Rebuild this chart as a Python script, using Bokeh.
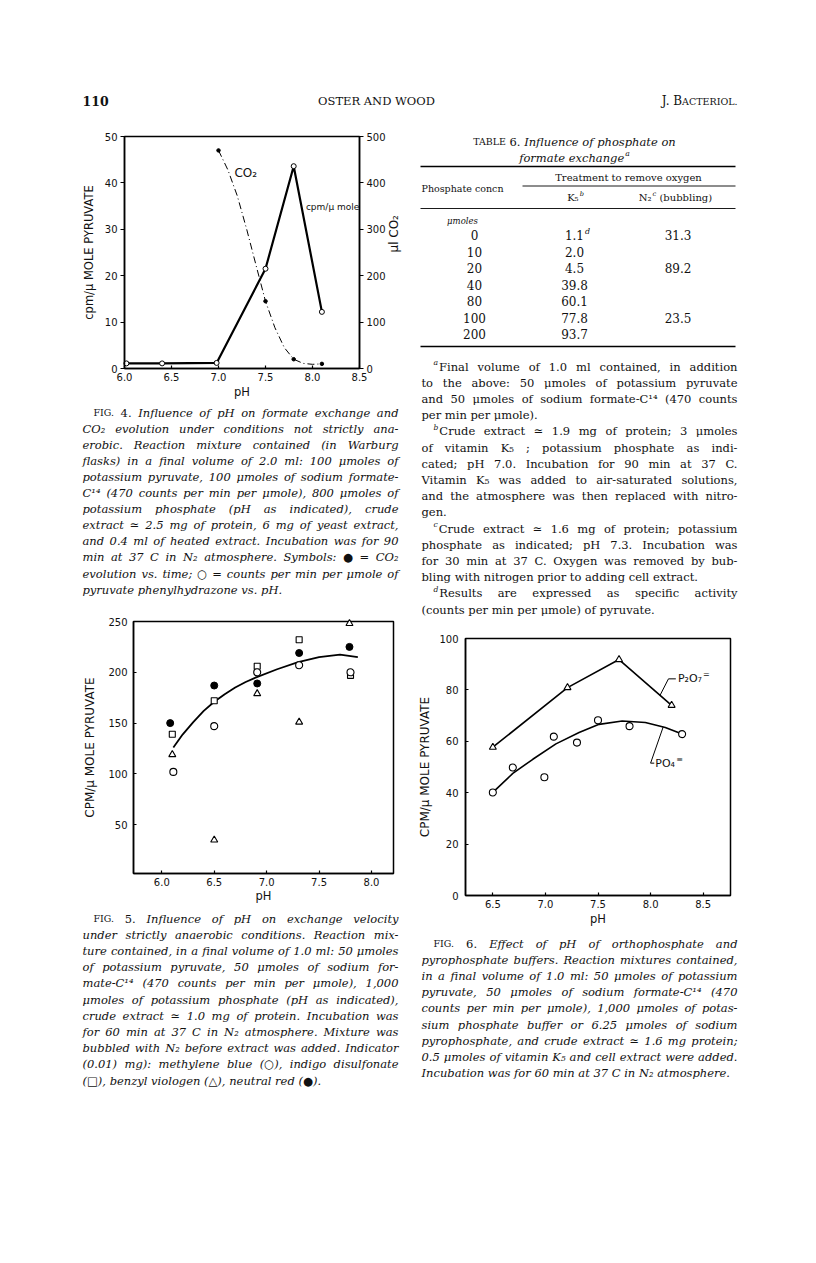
import glob, os, math
from bokeh.plotting import figure
from bokeh.models import Range1d, LinearAxis, FixedTicker, ColumnDataSource, PrintfTickFormatter
from bokeh.embed import file_html
from bokeh.resources import INLINE
from bokeh.core.properties import value, field

SERIF = "DejaVu Serif"
SANS = "DejaVu Sans"
INK = "#111111"

# ---------------- chart data ----------------
# Fig. 4
fig4_xlim = (6.0, 8.5)
fig4_ylim = (0, 50)
fig4_co2lim = (0, 500)
fig4_ph_cpm = [6.02, 6.40, 6.98, 7.50, 7.80, 8.10]
fig4_cpm = [1.1, 1.1, 1.2, 21.5, 43.6, 12.2]
fig4_ph_co2 = [7.00, 7.50, 7.80, 8.10]
fig4_co2 = [470, 145, 20, 10]
fig4_curve_ph = [7.0, 7.1, 7.2, 7.3, 7.4, 7.5, 7.6, 7.7, 7.8, 7.9, 8.0, 8.1]
fig4_curve_co2 = [470, 428, 372, 300, 222, 145, 88, 45, 20, 11, 9, 10]
fig4_xticks = [6.0, 6.5, 7.0, 7.5, 8.0, 8.5]
fig4_cpm_ticks = [0, 10, 20, 30, 40, 50]
fig4_co2_ticks = [0, 100, 200, 300, 400, 500]

# Fig. 5
fig5_xlim = (5.73, 8.21)
fig5_ylim = (2, 250)
fig5_ph_red = [6.08, 6.50, 6.91, 7.31, 7.79]
fig5_red = [150, 187, 189, 219, 225]
fig5_ph_indigo = [6.10, 6.50, 6.91, 7.31, 7.80]
fig5_indigo = [139, 172, 206, 232, 197]
fig5_ph_blue = [6.11, 6.50, 6.91, 7.31, 7.80]
fig5_blue = [102, 147, 200, 207, 200]
fig5_ph_benzyl = [6.10, 6.50, 6.91, 7.31, 7.79]
fig5_benzyl = [119, 35, 179, 151, 248]
fig5_curve_ph = [6.11, 6.2, 6.3, 6.4, 6.5, 6.6, 6.7, 6.8, 6.9, 7.1, 7.3, 7.5, 7.7, 7.87]
fig5_curve = [126, 139, 151, 162, 171, 178.5, 185, 190.5, 195, 203, 210, 215, 217.5, 215]
fig5_xticks = [6.0, 6.5, 7.0, 7.5, 8.0]
fig5_yticks = [50, 100, 150, 200, 250]

# Fig. 6
fig6_xlim = (6.24, 8.76)
fig6_ylim = (0, 100)
fig6_ph_pyro = [6.50, 7.21, 7.70, 8.20]
fig6_pyro = [57.7, 80.9, 91.8, 74.0]
fig6_ph_ortho = [6.50, 6.69, 6.99, 7.08, 7.30, 7.50, 7.80, 8.30]
fig6_ortho = [40.1, 49.8, 46.0, 61.8, 59.5, 68.2, 65.9, 62.8]
fig6_curve_ph = [6.51, 6.69, 6.88, 7.10, 7.32, 7.51, 7.73, 7.95, 8.14, 8.30]
fig6_curve = [40.5, 47.5, 53.0, 59.0, 63.4, 66.6, 67.9, 67.3, 65.4, 62.8]
fig6_xticks = [6.5, 7.0, 7.5, 8.0, 8.5]
fig6_yticks = [0, 20, 40, 60, 80, 100]

# Table 6
table_phosphate = [0, 10, 20, 40, 80, 100, 200]
table_k5 = [1.1, 2.0, 4.5, 39.8, 60.1, 77.8, 93.7]
table_n2 = [31.3, None, 89.2, None, None, 23.5, None]

# ---------------- texts ----------------
cap4_lines = [
    "~~FIG. ~4. Influence of pH on formate exchange and",
    "CO₂ evolution under conditions not strictly ana-",
    "erobic. Reaction mixture contained (in Warburg",
    "flasks) in a final volume of 2.0 ml: 100 μmoles of",
    "potassium pyruvate, 100 μmoles of sodium formate-",
    "C¹⁴ (470 counts per min per μmole), 800 μmoles of",
    "potassium phosphate (pH as indicated), crude",
    "extract ≃ 2.5 mg of protein, 6 mg of yeast extract,",
    "and 0.4 ml of heated extract. Incubation was for 90",
    "min at 37 C in N₂ atmosphere. Symbols: ● = CO₂",
    "evolution vs. time; ○ = counts per min per μmole of",
    "pyruvate phenylhydrazone vs. pH.",
]
cap5_lines = [
    "~~FIG. ~5. Influence of pH on exchange velocity",
    "under strictly anaerobic conditions. Reaction mix-",
    "ture contained, in a final volume of 1.0 ml: 50 μmoles",
    "of potassium pyruvate, 50 μmoles of sodium for-",
    "mate-C¹⁴ (470 counts per min per μmole), 1,000",
    "μmoles of potassium phosphate (pH as indicated),",
    "crude extract ≃ 1.0 mg of protein. Incubation was",
    "for 60 min at 37 C in N₂ atmosphere. Mixture was",
    "bubbled with N₂ before extract was added. Indicator",
    "(0.01) mg): methylene blue (○), indigo disulfonate",
    "(□), benzyl viologen (△), neutral red (●).",
]
cap6_lines = [
    "~~FIG. ~6. Effect of pH of orthophosphate and",
    "pyrophosphate buffers. Reaction mixtures contained,",
    "in a final volume of 1.0 ml: 50 μmoles of potassium",
    "pyruvate, 50 μmoles of sodium formate-C¹⁴ (470",
    "counts per min per μmole), 1,000 μmoles of potas-",
    "sium phosphate buffer or 6.25 μmoles of sodium",
    "pyrophosphate, and crude extract ≃ 1.6 mg protein;",
    "0.5 μmoles of vitamin K₅ and cell extract were added.",
    "Incubation was for 60 min at 37 C in N₂ atmosphere.",
]
foot_a = [
    "^a Final volume of 1.0 ml contained, in addition",
    "to the above: 50 μmoles of potassium pyruvate",
    "and 50 μmoles of sodium formate-C¹⁴ (470 counts",
    "per min per μmole).",
]
foot_b = [
    "^b Crude extract ≃ 1.9 mg of protein; 3 μmoles",
    "of vitamin K₅ ; potassium phosphate as indi-",
    "cated; pH 7.0. Incubation for 90 min at 37 C.",
    "Vitamin K₅ was added to air-saturated solutions,",
    "and the atmosphere was then replaced with nitro-",
    "gen.",
]
foot_c = [
    "^c Crude extract ≃ 1.6 mg of protein; potassium",
    "phosphate as indicated; pH 7.3. Incubation was",
    "for 30 min at 37 C. Oxygen was removed by bub-",
    "bling with nitrogen prior to adding cell extract.",
]
foot_d = [
    "^d Results are expressed as specific activity",
    "(counts per min per μmole) of pyruvate.",
]

# ---------------- text measuring / setting helpers ----------------
def _find(name):
    for root in ["/usr/share/fonts", "/usr/local/share/fonts",
                 os.path.expanduser("~/.fonts"), os.path.expanduser("~/.local/share/fonts")]:
        try:
            hits = glob.glob(os.path.join(root, "**", name), recursive=True)
        except Exception:
            hits = []
        if hits:
            return hits[0]
    return None

try:
    from PIL import ImageFont
    HAVE_PIL = True
except Exception:
    HAVE_PIL = False

FONT_PATHS = {
    "normal": _find("DejaVuSerif.ttf"),
    "italic": _find("DejaVuSerif-Italic.ttf"),
    "bold": _find("DejaVuSerif-Bold.ttf"),
}
_cache = {}


def text_width(s, style, size):
    path = FONT_PATHS.get(style)
    if HAVE_PIL and path:
        try:
            if path not in _cache:
                _cache[path] = ImageFont.truetype(path, 100)
            return _cache[path].getlength(s) * size / 100.0
        except Exception:
            pass
    return len(s) * size * (0.56 if style == "italic" else 0.6)


def tokens_from(line, style, size):
    toks = []
    for w in line.split(" "):
        if not w:
            continue
        st, sz, dy, glue = style, size, 0.0, False
        if w.startswith("^^"):
            w = w[2:]; sz = size * 0.66; dy = -4.0; st = "italic"
            if toks:
                toks[-1]["glue"] = True
        elif w.startswith("^"):
            w = w[1:]; sz = size * 0.66; dy = -4.0; glue = True; st = "italic"
        elif w.startswith("~~"):
            w = w[2:]; st = "normal"; sz = size * 0.82
        elif w.startswith("~"):
            w = w[1:]; st = "normal"
        toks.append(dict(t=w, st=st, sz=sz, dy=dy, glue=glue))
    return toks


TXT = dict(x=[], y=[], text=[], st=[], sz=[])


def layout_line(line, style, size, y, x0, x1=None, mode="left", out=TXT):
    toks = tokens_from(line, style, size)
    f = 1.0
    for _ in range(30):
        ws = [text_width(t["t"], t["st"], t["sz"] * f) for t in toks]
        space = text_width(" ", style, size * f)
        gaps = [1.0 if toks[k]["glue"] else space for k in range(len(toks) - 1)]
        if mode == "justify" and x1 is not None:
            nflex = sum(1 for k in range(len(toks) - 1) if not toks[k]["glue"])
            if nflex:
                fixed = sum(ws) + sum(g for k, g in enumerate(gaps) if toks[k]["glue"])
                g = (x1 - x0 - fixed) / nflex
                if g < 0.75 * space:
                    f -= 0.015
                    continue
                gaps = [gaps[k] if toks[k]["glue"] else g for k in range(len(gaps))]
        break
    total = sum(ws) + sum(gaps)
    if mode == "center":
        x = x0 - total / 2.0
    elif mode == "right":
        x = x0 - total
    else:
        x = x0
    for k, t in enumerate(toks):
        out["x"].append(x)
        out["y"].append(y + t["dy"])
        out["text"].append(t["t"])
        out["st"].append(t["st"])
        out["sz"].append("%.2fpx" % (t["sz"] * f))
        x += ws[k] + (gaps[k] if k < len(gaps) else 0)


def layout_par(lines, style, size, x0, x1, y0, dy, indent):
    for i, ln in enumerate(lines):
        mode = "left" if i == len(lines) - 1 else "justify"
        layout_line(ln, style, size, y0 + i * dy, x0 + (indent if i == 0 else 0), x1, mode)


# ---------------- the page: one figure in page pixel coordinates ----------------
W, H = 800, 1240
p = figure(width=W, height=H, x_range=Range1d(0, W), y_range=Range1d(H, 0),
           output_backend="svg", toolbar_location=None,
           x_axis_location=None, y_axis_location=None, min_border=0)
p.outline_line_color = None
p.grid.visible = False
p.background_fill_color = "white"
p.border_fill_color = "white"
p.extra_x_ranges = {}
p.extra_y_ranges = {}


def chart_ranges(name, xlim, X0, X1, ylims, Ybot, Ytop):
    """Extra ranges so that the chart's data limits land on the given page box."""
    kx = (xlim[1] - xlim[0]) / (X1 - X0)
    xs = xlim[0] - kx * X0
    p.extra_x_ranges[name + "x"] = Range1d(xs, xs + kx * W)
    for suffix, ylim in ylims.items():
        ky = (ylim[1] - ylim[0]) / (Ybot - Ytop)
        ys = ylim[0] - ky * (H - Ybot)
        p.extra_y_ranges[name + suffix] = Range1d(ys, ys + ky * H)


def style_axis(ax, tin, tout, lab_standoff, title_standoff, tick_font="10px", title_font="11.5px"):
    ax.axis_line_width = 1.5
    ax.axis_line_color = "black"
    ax.major_tick_in = tin
    ax.major_tick_out = tout
    ax.major_tick_line_width = 1.2
    ax.major_tick_line_color = "black"
    ax.minor_tick_line_color = None
    ax.major_label_standoff = lab_standoff
    ax.axis_label_standoff = title_standoff
    ax.major_label_text_font = SANS
    ax.major_label_text_font_size = tick_font
    ax.major_label_text_color = INK
    ax.axis_label_text_font = SANS
    ax.axis_label_text_font_size = title_font
    ax.axis_label_text_font_style = "normal"
    ax.axis_label_text_color = INK


def frame_box(xn, yn, xlim, ylim):
    p.quad(left=[xlim[0]], right=[xlim[1]], bottom=[ylim[0]], top=[ylim[1]],
           x_range_name=xn, y_range_name=yn, fill_color=None,
           line_color="black", line_width=1.5)


PH_FMT = "%.1f"

# ---------------- Fig. 4 ----------------
chart_ranges("f4", fig4_xlim, 124, 359, {"y": fig4_ylim, "c": fig4_co2lim}, 368, 136)
frame_box("f4x", "f4y", fig4_xlim, fig4_ylim)
a4b = LinearAxis(x_range_name="f4x", y_range_name="f4y", fixed_location=fig4_ylim[0],
                 bounds=fig4_xlim, ticker=FixedTicker(ticks=fig4_xticks), axis_label="pH",
                 formatter=PrintfTickFormatter(format=PH_FMT))
a4l = LinearAxis(x_range_name="f4x", y_range_name="f4y", fixed_location=fig4_xlim[0],
                 bounds=fig4_ylim, ticker=FixedTicker(ticks=fig4_cpm_ticks),
                 axis_label="cpm/μ MOLE PYRUVATE")
a4r = LinearAxis(x_range_name="f4x", y_range_name="f4c", fixed_location=fig4_xlim[1],
                 bounds=fig4_co2lim, ticker=FixedTicker(ticks=fig4_co2_ticks),
                 axis_label="μl CO₂")
style_axis(a4b, 3, 0, 4, 1)
style_axis(a4l, 0, 4, 3, 6)
style_axis(a4r, 0, 4, 3, 5, title_font="12px")
try:
    a4r.axis_label_orientation = math.pi / 2
except Exception:
    pass
p.add_layout(a4b, "below")
p.add_layout(a4l, "left")
p.add_layout(a4r, "right")
p.line(fig4_curve_ph, fig4_curve_co2, x_range_name="f4x", y_range_name="f4c",
       line_dash="7 3 1 3", line_width=1, line_color="black")
p.scatter(fig4_ph_co2, fig4_co2, x_range_name="f4x", y_range_name="f4c", marker="circle",
          size=3.5, fill_color="black", line_color="black")
p.line(fig4_ph_cpm, fig4_cpm, x_range_name="f4x", y_range_name="f4y",
       line_width=2.2, line_color="black")
p.scatter(fig4_ph_cpm, fig4_cpm, x_range_name="f4x", y_range_name="f4y", marker="circle",
          size=5, fill_color="white", line_color="black", line_width=1)
p.text(x=[7.29], y=[42.2], text=["CO₂"], x_range_name="f4x", y_range_name="f4y",
       text_font=value(SANS), text_font_size="12px", text_align="center",
       text_baseline="middle", text_color=INK)
p.text(x=[7.93], y=[34.7], text=["cpm/μ mole"], x_range_name="f4x", y_range_name="f4y",
       text_font=value(SANS), text_font_size="9px", text_align="left",
       text_baseline="middle", text_color=INK)

# ---------------- Fig. 5 ----------------
chart_ranges("f5", fig5_xlim, 133, 393, {"y": fig5_ylim}, 873, 621)
frame_box("f5x", "f5y", fig5_xlim, fig5_ylim)
a5b = LinearAxis(x_range_name="f5x", y_range_name="f5y", fixed_location=fig5_ylim[0],
                 bounds=fig5_xlim, ticker=FixedTicker(ticks=fig5_xticks), axis_label="pH",
                 formatter=PrintfTickFormatter(format=PH_FMT))
a5l = LinearAxis(x_range_name="f5x", y_range_name="f5y", fixed_location=fig5_xlim[0],
                 bounds=fig5_ylim, ticker=FixedTicker(ticks=fig5_yticks),
                 axis_label="CPM/μ MOLE PYRUVATE")
style_axis(a5b, 3, 0, 4, 0)
style_axis(a5l, 3, 0, 6, 8, title_font="12px")
p.add_layout(a5b, "below")
p.add_layout(a5l, "left")
kw5 = dict(x_range_name="f5x", y_range_name="f5y")
p.line(fig5_curve_ph, fig5_curve, line_width=1.8, line_color="black", **kw5)
p.scatter(fig5_ph_red, fig5_red, marker="circle", size=7, fill_color="black",
          line_color="black", **kw5)
p.scatter(fig5_ph_indigo, fig5_indigo, marker="square", size=6, fill_color="white",
          line_color="black", line_width=1.1, **kw5)
p.scatter(fig5_ph_blue, fig5_blue, marker="circle", size=7, fill_color="white",
          line_color="black", line_width=1.1, **kw5)
p.scatter(fig5_ph_benzyl, fig5_benzyl, marker="triangle", size=7, fill_color="white",
          line_color="black", line_width=1.1, **kw5)

# ---------------- Fig. 6 ----------------
chart_ranges("f6", fig6_xlim, 465, 730, {"y": fig6_ylim}, 895, 638)
frame_box("f6x", "f6y", fig6_xlim, fig6_ylim)
a6b = LinearAxis(x_range_name="f6x", y_range_name="f6y", fixed_location=fig6_ylim[0],
                 bounds=fig6_xlim, ticker=FixedTicker(ticks=fig6_xticks), axis_label="pH",
                 formatter=PrintfTickFormatter(format=PH_FMT))
a6l = LinearAxis(x_range_name="f6x", y_range_name="f6y", fixed_location=fig6_xlim[0],
                 bounds=fig6_ylim, ticker=FixedTicker(ticks=fig6_yticks),
                 axis_label="CPM/μ MOLE PYRUVATE")
style_axis(a6b, 3, 0, 4, 1)
style_axis(a6l, 3, 0, 7, 4, title_font="12px")
p.add_layout(a6b, "below")
p.add_layout(a6l, "left")
kw6 = dict(x_range_name="f6x", y_range_name="f6y")
p.line(fig6_ph_pyro, fig6_pyro, line_width=1.6, line_color="black", **kw6)
p.scatter(fig6_ph_pyro, fig6_pyro, marker="triangle", size=7, fill_color="white",
          line_color="black", line_width=1.1, **kw6)
p.line(fig6_curve_ph, fig6_curve, line_width=1.6, line_color="black", **kw6)
p.scatter(fig6_ph_ortho, fig6_ortho, marker="circle", size=7, fill_color="white",
          line_color="black", line_width=1.1, **kw6)
# series labels with leader lines
p.line([8.24, 8.17, 8.09], [84.3, 84.3, 77.9], line_width=1, line_color="black", **kw6)
p.line([8.12, 8.0, 8.035], [65.6, 51.5, 51.5], line_width=1, line_color="black", **kw6)
p.text(x=[8.26], y=[84.3], text=["P₂O₇"], text_font=value(SANS), text_font_size="11px",
       text_align="left", text_baseline="middle", text_color=INK, **kw6)
p.text(x=[8.26], y=[84.3], text=["="], text_font=value(SANS), text_font_size="8px",
       x_offset=25, y_offset=-4, text_align="left", text_baseline="middle", text_color=INK, **kw6)
p.text(x=[8.045], y=[51.4], text=["PO₄"], text_font=value(SANS), text_font_size="11px",
       text_align="left", text_baseline="middle", text_color=INK, **kw6)
p.text(x=[8.045], y=[51.4], text=["≡"], text_font=value(SANS), text_font_size="8px",
       x_offset=21, y_offset=-4, text_align="left", text_baseline="middle", text_color=INK, **kw6)

# ---------------- page texts ----------------
# running head
layout_line("110", "bold", 12.5, 100, 82, None, "left")
layout_line("OSTER AND WOOD", "normal", 11.5, 100, 376, None, "center")
wsc = text_width("ACTERIOL.", "normal", 9.5)
layout_line("ACTERIOL.", "normal", 9.5, 100.5, 737, None, "right")
layout_line("J. B", "normal", 12, 100, 737 - wsc, None, "right")

# figure legends
layout_par(cap4_lines, "italic", 11.5, 82, 398, 412, 16.1, 11)
layout_par(cap5_lines, "italic", 11.5, 82, 398, 918, 16.2, 11)
layout_par(cap6_lines, "italic", 11.5, 421, 737, 943, 16.2, 12)

# table 6
layout_line("~~TABLE ~6. Influence of phosphate on", "italic", 11.5, 141, 574, None, "center")
layout_line("formate exchange ^^a", "italic", 11.5, 157, 574, None, "center")
layout_line("Treatment to remove oxygen", "normal", 10, 177, 628, None, "center")
layout_line("Phosphate concn", "normal", 9.5, 187.5, 462, None, "center")
layout_line("K₅ ^^b", "normal", 10, 197, 575, None, "center")
layout_line("N₂ ^^c (bubbling)", "normal", 10, 197, 675, None, "center")
layout_line("μmoles", "italic", 8.5, 220, 462, None, "center")
for i, (ph, k5, n2) in enumerate(zip(table_phosphate, table_k5, table_n2)):
    yy = 234.5 + 16.5 * i
    layout_line(str(ph), "normal", 12, yy, 474, None, "center")
    if i == 0:
        layout_line("%.1f ^^d" % k5, "normal", 12, yy, 577, None, "center")
    else:
        layout_line("%.1f" % k5, "normal", 12, yy, 574, None, "center")
    if n2 is not None:
        layout_line("%.1f" % n2, "normal", 12, yy, 677.5, None, "center")
p.segment(x0=[420, 522, 420, 420], y0=[166, 185.5, 208, 346],
          x1=[735, 735, 735, 735], y1=[166, 185.5, 208, 346],
          line_width=[1.6, 0.9, 0.9, 1.3], line_color="black")

# table footnotes
fy, fdy = 366.0, 16.2
layout_par(foot_a, "normal", 11.5, 421, 737, fy + 0 * fdy, fdy, 12)
layout_par(foot_b, "normal", 11.5, 421, 737, fy + 4 * fdy, fdy, 12)
layout_par(foot_c, "normal", 11.5, 421, 737, fy + 10 * fdy, fdy, 12)
layout_par(foot_d, "normal", 11.5, 421, 737, fy + 14 * fdy, fdy, 12)

src = ColumnDataSource(dict(TXT))
p.text(x="x", y="y", text="text", source=src, text_font=value(SERIF),
       text_font_style=field("st"), text_font_size=field("sz"),
       text_baseline="middle", text_align="left", text_color=INK)

open("out.html", "w").write(file_html(p, INLINE))
